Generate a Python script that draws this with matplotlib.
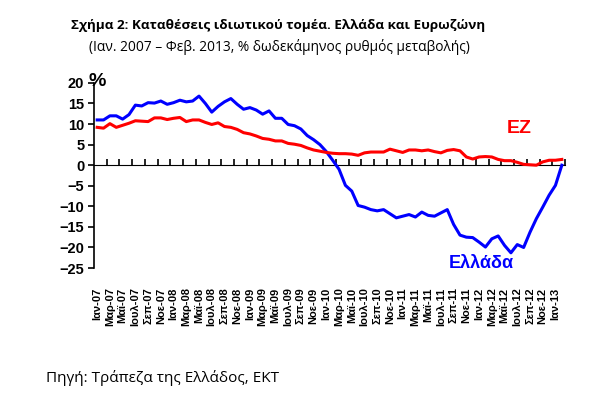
import matplotlib
matplotlib.use("Agg")
import matplotlib.pyplot as plt
import numpy as np

# Jan 2007 .. Feb 2013, monthly, % y/y
greece = [11.0, 11.0, 12.0, 12.0, 11.2, 12.3, 14.6, 14.4, 15.2, 15.1, 15.6, 14.8,
          15.2, 15.8, 15.4, 15.6, 16.8, 15.0, 12.9, 14.3, 15.4, 16.2, 14.8, 13.6,
          14.0, 13.4, 12.4, 13.2, 11.4, 11.4, 9.9, 9.6, 8.8, 7.2, 6.2, 5.0,
          3.3, 1.2, -1.0, -4.9, -6.3, -9.8, -10.2, -10.8, -11.1, -10.8, -11.8, -12.8,
          -12.4, -12.0, -12.6, -11.4, -12.2, -12.4, -11.6, -10.8, -14.4, -17.0, -17.5, -17.6,
          -18.7, -19.9, -17.9, -17.2, -19.5, -21.3, -19.3, -20.0, -16.3, -13.0, -10.2, -7.3,
          -4.9, 0.0]
euro = [9.2, 9.0, 10.1, 9.2, 9.7, 10.2, 10.8, 10.7, 10.6, 11.5, 11.5, 11.1,
        11.4, 11.6, 10.6, 11.0, 11.0, 10.4, 9.9, 10.3, 9.4, 9.2, 8.7, 7.9,
        7.6, 7.1, 6.5, 6.3, 5.9, 5.9, 5.3, 5.1, 4.8, 4.2, 3.7, 3.4,
        3.1, 2.9, 2.8, 2.8, 2.7, 2.4, 3.0, 3.2, 3.2, 3.2, 3.9, 3.5,
        3.1, 3.7, 3.7, 3.5, 3.7, 3.3, 3.0, 3.6, 3.8, 3.5, 2.0, 1.5,
        2.0, 2.1, 2.0, 1.4, 1.1, 1.1, 0.7, 0.2, 0.1, 0.0, 0.8, 1.2,
        1.2, 1.4]
months = ["Ιαν", "Μαρ", "Μαϊ", "Ιουλ", "Σεπ", "Νοε"]
years = ["07", "08", "09", "10", "11", "12", "13"]
tick_labels = [f"{m}-{y}" for y in years for m in months][:37]

fig = plt.figure(figsize=(5.93, 3.93), dpi=100)
ax = fig.add_axes([0.1585, 0.318, 0.7943, 0.471])

x = np.arange(len(greece))
ax.plot(x, greece, color="#0000ff", lw=2.2, solid_joinstyle="round")
ax.plot(x, euro, color="#ff0000", lw=2.2, solid_joinstyle="round")

ymin, ymax = -25, 20
ax.set_xlim(-0.5, len(greece) - 0.5)
ax.set_ylim(ymin, ymax)

for s in ["top", "right", "bottom"]:
    ax.spines[s].set_visible(False)
ax.spines["left"].set_linewidth(1.2)

bold = dict(family="Liberation Sans", weight="bold")
ax.set_yticks(range(ymin, ymax + 1, 5))
ax.tick_params(axis="y", direction="out", length=4, width=1.2, pad=3)
for lab in ax.get_yticklabels():
    lab.set_fontsize(10.5)
    lab.set_fontfamily("Liberation Sans")
    lab.set_fontweight("bold")

# category labels at the bottom
ax.set_xticks(np.arange(0, len(tick_labels) * 2, 2))
ax.set_xticklabels(tick_labels, rotation=90, fontsize=8, **bold)
ax.tick_params(axis="x", length=0, pad=14)

# zero axis with tick marks between categories
zero = ax.secondary_xaxis((0 - ymin) / (ymax - ymin))
zero.set_xticks(np.arange(1.5, len(greece), 2))
zero.set_xticklabels([])
zero.tick_params(direction="out", length=4, width=1.2)
zero.spines["bottom"].set_linewidth(1.2)

ax.text(0.0, 20.4, "%", fontsize=14, va="center", ha="center", **bold)
ax.text(66.3, 8.9, "EZ", color="#ff0000", fontsize=14, ha="center", va="center", **bold)
ax.text(60.3, -23.8, "Ελλάδα", color="#0000ff", fontsize=13, ha="center", va="center", **bold)

fig.text(0.469, 0.936, "Σχήμα 2: Καταθέσεις ιδιωτικού τομέα. Ελλάδα και Ευρωζώνη",
         ha="center", va="center", fontsize=9.7, family="Open Sans", weight="bold")
fig.text(0.471, 0.881, "(Ιαν. 2007 – Φεβ. 2013, % δωδεκάμηνος ρυθμός μεταβολής)",
         ha="center", va="center", fontsize=9.9, family="Open Sans")
fig.text(0.077, 0.038, "Πηγή: Τράπεζα της Ελλάδος, ΕΚΤ",
         ha="left", va="center", fontsize=11, family="Open Sans")

fig.savefig("out.png", dpi=100)
